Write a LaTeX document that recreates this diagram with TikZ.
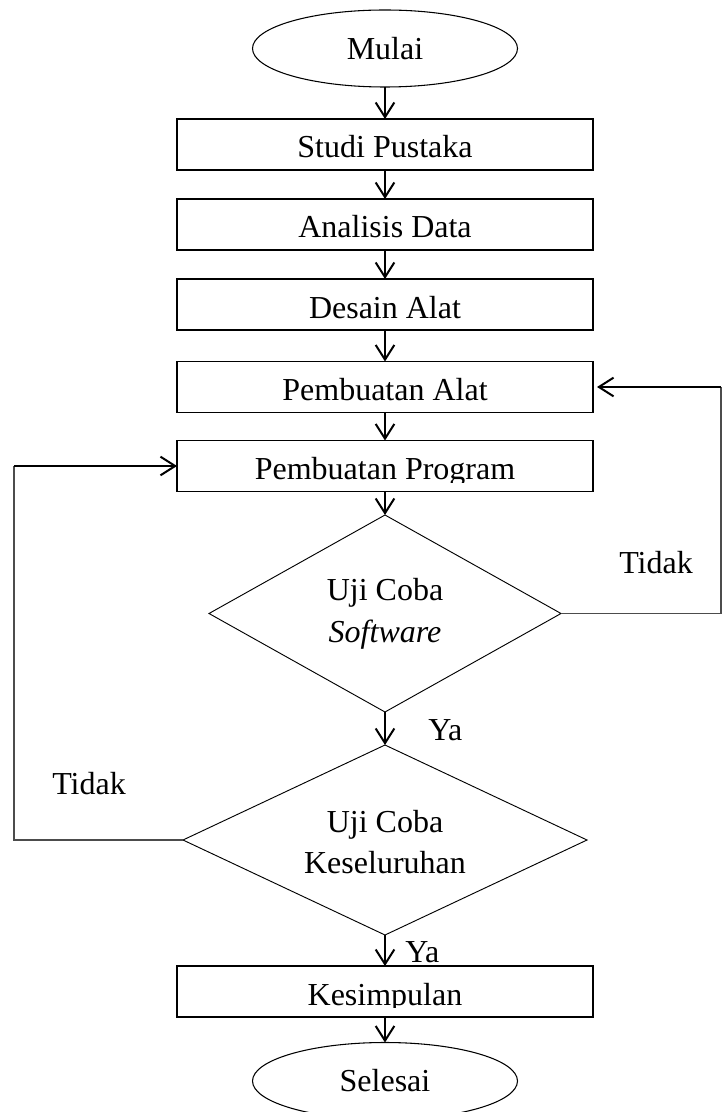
\documentclass[tikz,border=0pt]{standalone}
\usepackage{fontspec}
\setmainfont{Liberation Serif}
\usetikzlibrary{shapes.geometric,arrows.meta}
\tikzset{
  every node/.style={font=\fontsize{24}{29}\selectfont},
  box/.style={draw=black, line width=0.9pt, minimum width=312pt, minimum height=38.25pt, inner sep=0pt, outer sep=0pt},
  term/.style={draw=black, ellipse, line width=0.8pt, minimum width=198.75pt, minimum height=57.75pt, inner sep=0pt, outer sep=0pt},
  decision/.style={draw=black, diamond, line width=0.7pt, inner sep=0pt, outer sep=0pt},
  lbl/.style={anchor=base, inner sep=0pt},
  flow/.style={line width=1.5pt, -{Straight Barb[length=11pt,width=14pt]}},
  link/.style={line width=1pt, black!70},
}
% process box: name, top edge, caption (caption clipped to the text area of the box)
\newcommand\procstep[3]{%
  \node[box] (#1) at (385,#2+25.5) {};
  \begin{scope}
    \clip (177,#2) rectangle (593,#2+41.5);
    \node[lbl] at (385,#2+39) {#3};
  \end{scope}}
\begin{document}
\begin{tikzpicture}[x=0.75pt,y=-0.75pt]
\useasboundingbox (0,0) rectangle (722,1112);
\clip (0,0) rectangle (722,1112);

% nodes
\node[term] (mulai) at (385,48.5) {Mulai};
\procstep{studi}{119}{Studi Pustaka}
\procstep{analisis}{199}{Analisis Data}
\procstep{desain}{279}{Desain Alat}
\procstep{alat}{361.5}{Pembuatan Alat}
\procstep{prog}{440.5}{Pembuatan Program}
\node[decision, minimum width=264pt, minimum height=147.75pt] (uji1) at (385,613.5) {};
\node[lbl] at (385,600) {Uji Coba};
\node[lbl] at (385,642) {\textit{Software}};
\node[decision, minimum width=303pt, minimum height=142.5pt] (uji2) at (385,840) {};
\node[lbl] at (385,832.5) {Uji Coba};
\node[lbl] at (385,873.5) {Keseluruhan};
\procstep{simpul}{966}{Kesimpulan}
\node[term] (selesai) at (385,1081) {Selesai};

% main flow
\draw[flow] (mulai) -- (studi);
\draw[flow] (studi) -- (analisis);
\draw[flow] (analisis) -- (desain);
\draw[flow] (desain) -- (alat);
\draw[flow] (alat) -- (prog);
\draw[flow] (prog) -- (uji1);
\draw[flow] (uji1) -- (uji2);
\draw[flow] (uji2) -- (simpul);
\draw[flow] (simpul) -- (selesai);

% branch labels
\node[lbl, anchor=base west] (ya1) at (428,740) {Ya};
\node[lbl, anchor=base west] (ya2) at (405,962) {Ya};
\node[lbl, anchor=base west] (tidak1) at (619,573) {Tidak};
\node[lbl, anchor=base west] (tidak2) at (52,794) {Tidak};

% loop back from software test
\coordinate (rb) at (721,613.5);
\coordinate (rt) at (721,387);
\draw[link] (uji1.east) -- (rb) -- (rt);
\draw[flow, shorten >=3pt] (rt) -- (alat.east);

% loop back from full test
\coordinate (lb) at (14,840);
\coordinate (lt) at (14,466);
\draw[link] (uji2.west) -- (lb) -- (lt);
\draw[flow] (lt) -- (prog.west);
\end{tikzpicture}
\end{document}
